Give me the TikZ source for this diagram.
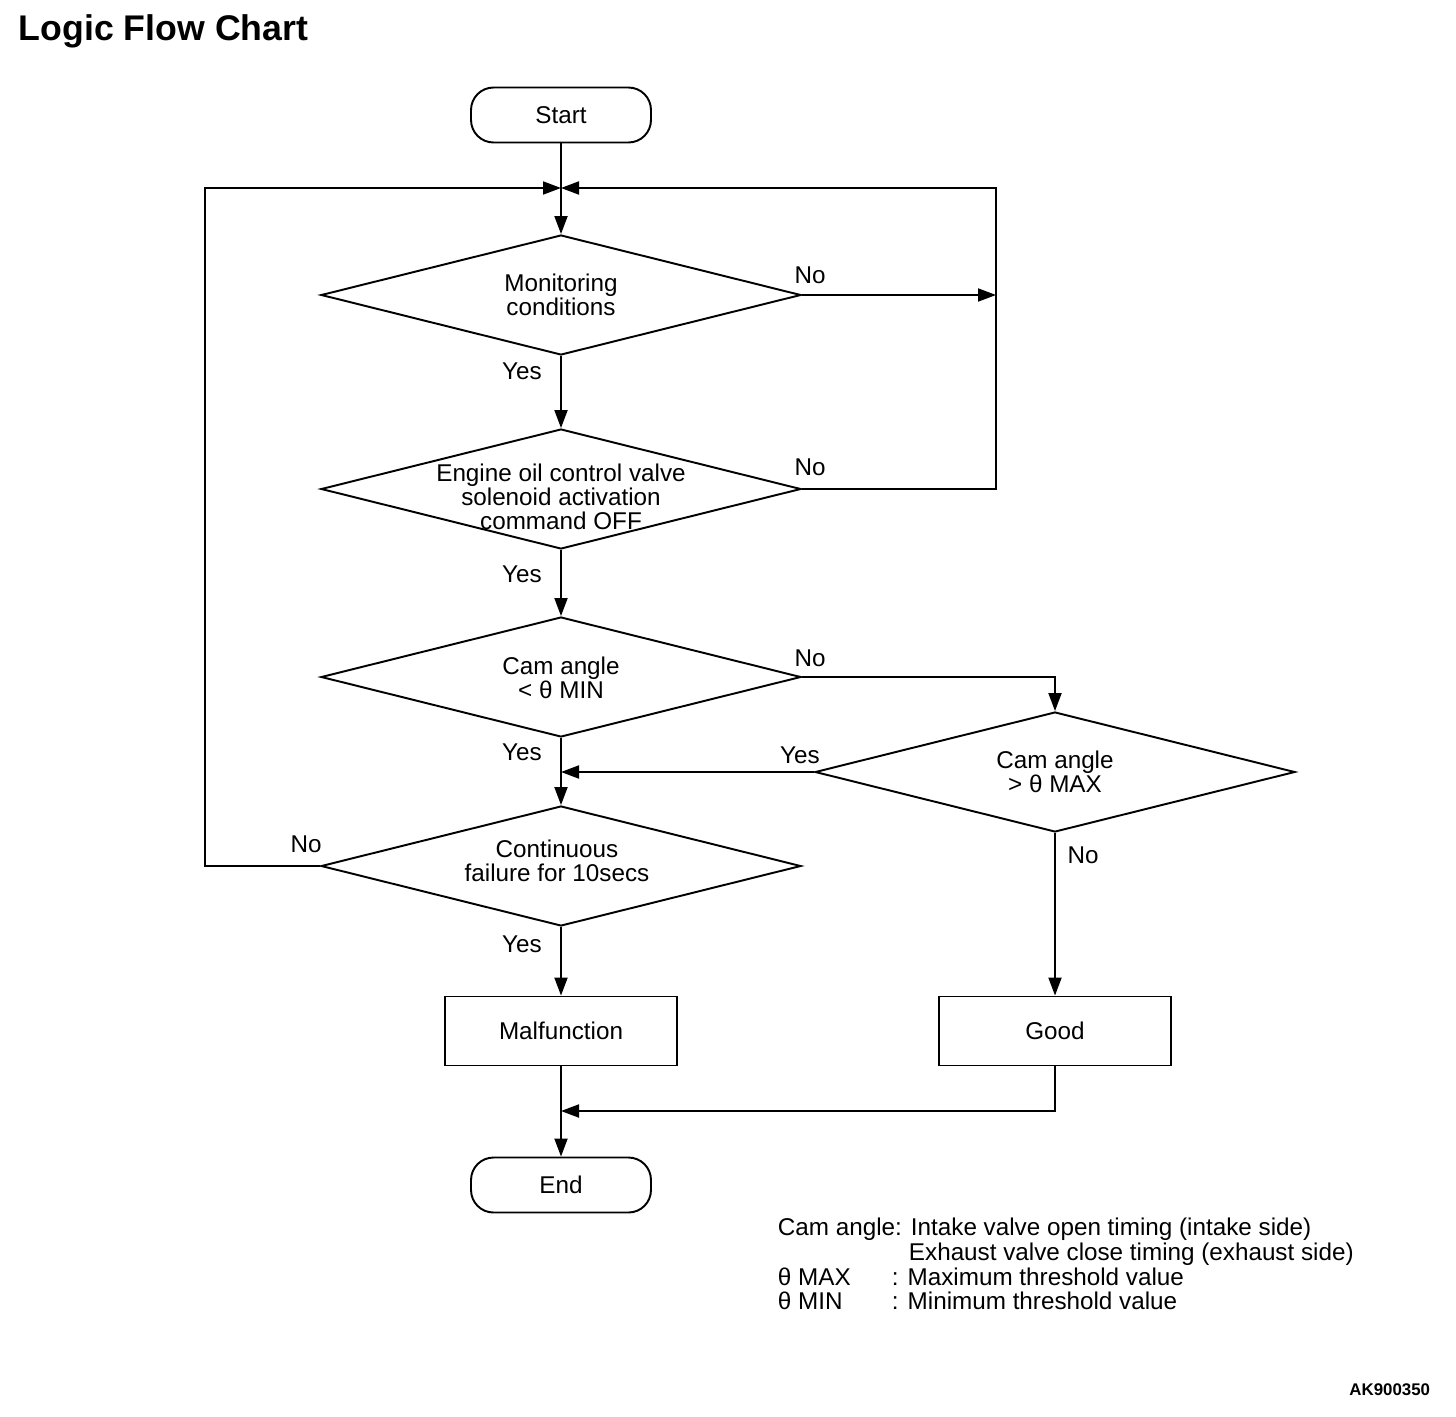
\documentclass[tikz,border=0pt]{standalone}
\usepackage{fontspec}
\setmainfont{Liberation Sans}
\usetikzlibrary{shapes.geometric,arrows.meta}

\tikzset{
  term/.style={draw, rounded corners=0.45cm, minimum width=3.6cm, minimum height=1.1cm, inner sep=0},
  cond/.style={draw, diamond, minimum width=9.6cm, minimum height=2.4cm, inner sep=0},
  proc/.style={draw, rectangle, minimum width=4.64cm, minimum height=1.38cm, inner sep=0},
  txt/.style={align=center, inner sep=0},
  lgd/.style={anchor=base west, inner sep=0},
}

\begin{document}
\begin{tikzpicture}[x=0.02cm, y=-0.02cm, line width=1.1pt,
  >={Triangle[length=3.6mm,width=2.6mm]},
  font=\fontsize{13.8}{13.7}\selectfont]
\useasboundingbox (0,0) rectangle (1456,1416);

% --- Titre ---
\node[anchor=base west, inner sep=0, font=\bfseries\fontsize{20.3}{24}\selectfont] (title) at (18,41) {Logic Flow Chart};

% --- Blocs ---
\node[term] (start) at (561,115) {Start};
\coordinate (m) at (561,188);

\node[cond] (d1) at (561,295) {};
\node[txt] (t1) at (561,295) {Monitoring\\conditions};

\node[cond] (d2) at (561,489) {};
\node[txt] (t2) at (561,497) {Engine oil control valve\\solenoid activation\\command OFF};

\node[cond] (d3) at (561,677) {};
\node[txt] (t3) at (561,678) {Cam angle\\< θ MIN};

\node[cond] (d4) at (1055,772) {};
\node[txt] (t4) at (1055,772) {Cam angle\\> θ MAX};

\node[cond] (d5) at (561,866) {};
\node[txt] (t5) at (557,861) {Continuous\\failure for 10secs};

\node[proc] (mal) at (561,1031) {Malfunction};
\node[proc] (good) at (1055,1031) {Good};
\coordinate (j) at (561,1111);
\node[term] (end) at (561,1185) {End};

\coordinate (rt) at (996,188);
\coordinate (lf) at (205,188);

% --- Fleches ---
\draw[->] (start) -- (d1);
\draw[->] (d1.east) -- (d1.east -| rt);
\draw[->] (d2.east) -| (rt) -- (m);
\draw[->] (d1) -- (d2);
\draw[->] (d2) -- (d3);
\draw[->] (d3.east) -| (d4.north);
\draw[->] (d4.west) -- (d4.west -| d3.south);
\draw[->] (d3) -- (d5);
\draw[->] (d5.west) -| (lf) -- (m);
\draw[->] (d5) -- (mal);
\draw[->] (d4) -- (good);
\draw[->] (good.south) |- (j);
\draw[->] (mal) -- (end);

% --- Etiquettes ---
\node (no1) at (810,275) {No};
\node (yes1) at (522,371) {Yes};
\node (no2) at (810,467) {No};
\node (yes2) at (522,574) {Yes};
\node (no3) at (810,658) {No};
\node (yes3) at (522,752) {Yes};
\node (yes4) at (800,755) {Yes};
\node (no4) at (1083,855) {No};
\node (no5) at (306,844) {No};
\node (yes5) at (522,944) {Yes};

% --- Legende ---
\node[lgd] (lg1) at (777,1235) {Cam angle:};
\node[lgd] (lg1b) at (910,1235) {Intake valve open timing (intake side)};
\node[lgd] (lg2) at (908,1260) {Exhaust valve close timing (exhaust side)};
\node[lgd] (lg3) at (777,1285) {θ MAX};
\node[lgd] (lg3b) at (891,1285) {: Maximum threshold value};
\node[lgd] (lg4) at (777,1309) {θ MIN};
\node[lgd] (lg4b) at (891,1309) {: Minimum threshold value};

\node[anchor=base east, inner sep=0, font=\bfseries\fontsize{9.6}{11}\selectfont] (ref) at (1431,1395) {AK900350};

\end{tikzpicture}
\end{document}
